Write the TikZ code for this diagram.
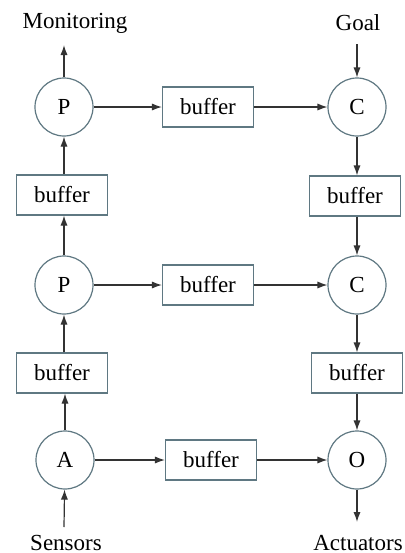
\documentclass[tikz,border=0pt]{standalone}
\usepackage{fontspec}
\setmainfont{Liberation Serif}
\usetikzlibrary{arrows.meta}
\definecolor{nodeline}{RGB}{95,120,130}
\tikzset{
	every path/.style={line width=0.6pt},
	stage/.style={
		draw=nodeline,
		circle,
		minimum size=29pt,
		inner sep=0pt,
	},
	buf/.style={
		draw=nodeline,
		rectangle,
		minimum width=45.5pt,
		minimum height=20pt,
		inner sep=0pt,
	},
	flow/.style={
		draw=black!80,
		-{Latex[length=5pt,width=3.6pt]}
	},
	label/.style={inner sep=0pt},
}

\begin{document}
\begin{tikzpicture}[x=0.5pt,y=-0.5pt,font=\fontsize{11.5}{13}\selectfont]
		\useasboundingbox (0,0) rectangle (405,553);

		\node[stage] (ptop) at (64,107) {P};
		\node[buf] (btop) at (208,107) {buffer};
		\node[stage] (ctop) at (357,107) {C};

		\node[buf] (bleftA) at (62,195) {buffer};
		\node[buf] (brightA) at (355,196) {buffer};

		\node[stage] (pmid) at (64,285) {P};
		\node[buf] (bmid) at (208,285) {buffer};
		\node[stage] (cmid) at (357,285) {C};

		\node[buf] (bleftB) at (62,373) {buffer};
		\node[buf] (brightB) at (357,373) {buffer};

		\node[stage] (act) at (65,460) {A};
		\node[buf] (bbot) at (211,460) {buffer};
		\node[stage] (out) at (357,460) {O};

		\node[label] (monitoring) at (75,23) {Monitoring};
		\node[label] (goal) at (358,23) {Goal};
		\node[label] (sensors) at (66,543) {Sensors};
		\node[label] (actuators) at (358,543) {Actuators};

		\coordinate (monend) at (64,45);
		\coordinate (goalstart) at (357,44);
		\coordinate (sensstart) at (64,527);
		\coordinate (actend) at (357,522);

		\draw[flow] (ptop) -- (monend);
		\draw[flow] (goalstart) -- (ctop);

		\draw[flow] (ptop) -- (btop);
		\draw[flow] (btop) -- (ctop);
		\draw[flow] (pmid) -- (bmid);
		\draw[flow] (bmid) -- (cmid);
		\draw[flow] (act) -- (bbot);
		\draw[flow] (bbot) -- (out);

		\draw[flow] (sensstart) -- (act);
		\draw[flow] (act.north) -- (bleftB.south -| act.north);
		\draw[flow] (bleftB.north -| pmid.south) -- (pmid.south);
		\draw[flow] (pmid.north) -- (bleftA.south -| pmid.north);
		\draw[flow] (bleftA.north -| ptop.south) -- (ptop.south);

		\draw[flow] (ctop.south) -- (brightA.north -| ctop.south);
		\draw[flow] (brightA.south -| cmid.north) -- (cmid.north);
		\draw[flow] (cmid.south) -- (brightB.north -| cmid.south);
		\draw[flow] (brightB.south -| out.north) -- (out.north);
		\draw[flow] (out) -- (actend);

	\end{tikzpicture}
\end{document}
